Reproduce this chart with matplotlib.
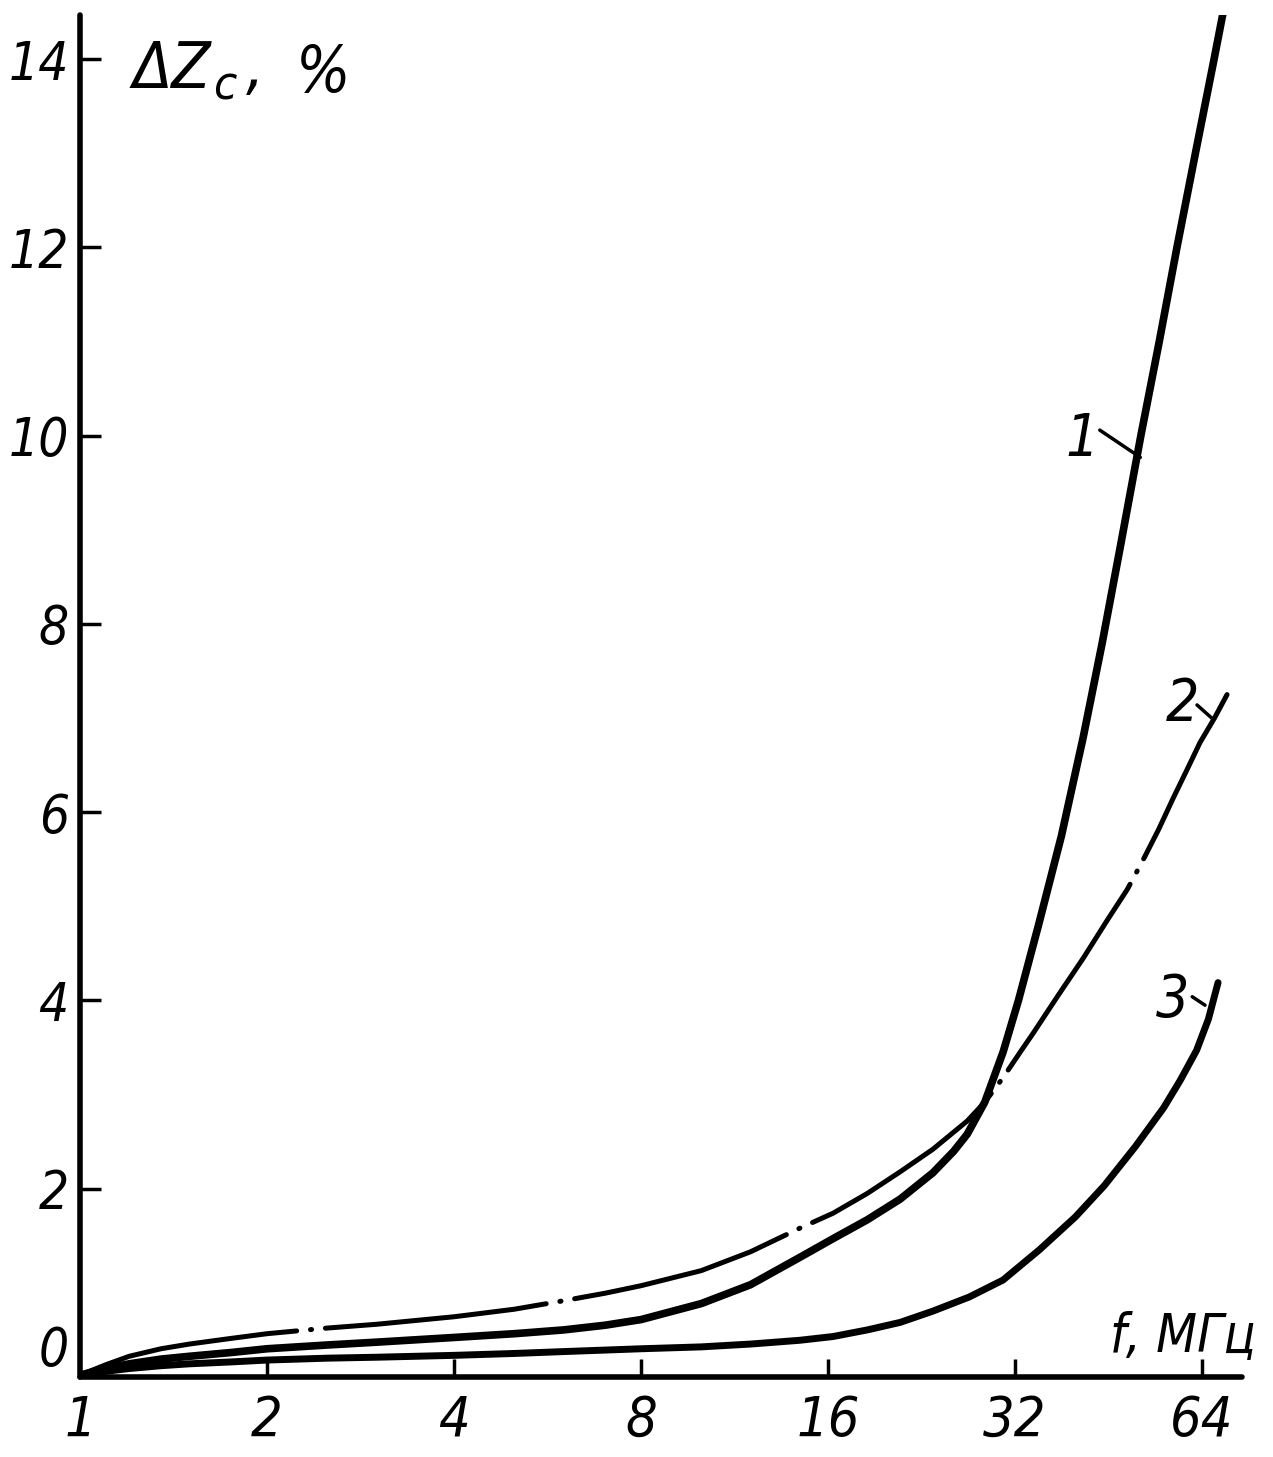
import matplotlib
matplotlib.use('Agg')
import matplotlib.pyplot as plt
from matplotlib import font_manager

# values (f in MHz, dZc in %)
f_1 = [1.0, 1.1, 1.2, 1.35, 1.5, 1.75, 2.0, 2.5, 3.0, 4.0, 5.0, 6.0, 7.0, 8.0,
       10.0, 12.0, 14.4, 16.3, 18.5, 20.9, 23.6, 25.5, 26.8, 28.6, 30.6, 32.4,
       34.9, 38.0, 41.2, 44.2, 47.2, 51.0, 54.6, 58.3, 62.6, 66.9, 69.2]
dz_1 = [0.02, 0.09, 0.14, 0.19, 0.22, 0.26, 0.30, 0.34, 0.37, 0.42, 0.46, 0.50, 0.55, 0.61,
        0.78, 0.98, 1.27, 1.47, 1.67, 1.89, 2.17, 2.40, 2.58, 2.92, 3.45, 4.0,
        4.8, 5.75, 6.8, 7.8, 8.8, 10.0, 11.0, 12.0, 13.04, 14.0, 14.5]

f_2 = [1.0, 1.1, 1.2, 1.35, 1.5, 1.75, 2.0, 2.5, 3.0, 4.0, 5.0, 6.0, 7.0, 8.0,
       10.0, 12.0, 14.4, 16.3, 18.5, 20.9, 23.6, 26.8, 28.6, 30.6, 32.6, 34.2,
       37.5, 41.2, 45.0, 48.5, 51.4, 54.5, 57.5, 60.5, 63.5, 67.0, 70.2]
dz_2 = [0.02, 0.13, 0.22, 0.30, 0.35, 0.41, 0.46, 0.52, 0.56, 0.64, 0.72, 0.81, 0.89, 0.97,
        1.13, 1.33, 1.58, 1.74, 1.95, 2.18, 2.42, 2.72, 2.92, 3.18, 3.45, 3.65,
        4.05, 4.45, 4.85, 5.18, 5.49, 5.82, 6.15, 6.45, 6.74, 7.0, 7.25]

f_3 = [1.0, 1.1, 1.2, 1.35, 1.5, 1.75, 2.0, 2.5, 3.0, 4.0, 5.0, 6.0, 8.0,
       10.0, 12.0, 14.4, 16.3, 18.5, 20.9, 23.6, 27.0, 30.6, 35.0, 40.0, 44.5,
       50.0, 55.5, 59.0, 62.7, 65.5, 67.9]
dz_3 = [0.02, 0.06, 0.09, 0.12, 0.14, 0.16, 0.18, 0.20, 0.21, 0.23, 0.25, 0.27, 0.30,
        0.32, 0.35, 0.39, 0.43, 0.50, 0.58, 0.70, 0.85, 1.03, 1.35, 1.70, 2.03,
        2.45, 2.86, 3.15, 3.47, 3.8, 4.19]

x_ticks = [1, 2, 4, 8, 16, 32, 64]
x_labels = ['1', '2', '4', '8', '16', '32', '64']
y_ticks = [0, 2, 4, 6, 8, 10, 12, 14]
y_labels = ['0', '2', '4', '6', '8', '10', '12', '14']

# curve number labels: (text, label pos, leader start, leader end)
curve_tags = [
    ('1', (41.0, 9.96), (43.8, 10.06), (50.9, 9.77)),
    ('2', (59.6, 7.14), (62.8, 7.14), (66.6, 6.99)),
    ('3', (57.3, 4.0), (61.7, 4.04), (64.7, 3.95)),
]

# the scan uses narrow hand lettering, so pick a narrow face if there is one
names = set(f.name for f in font_manager.fontManager.ttflist)
condensed = [f for f in font_manager.fontManager.ttflist
             if f.name == 'DejaVu Sans' and 'condensed' in str(f.stretch).lower()]
if 'Liberation Sans Narrow' in names:
    fam, stretch, fs = 'Liberation Sans Narrow', 'normal', 44
elif condensed:
    fam, stretch, fs = 'DejaVu Sans', 'condensed', 40
else:
    fam, stretch, fs = 'Liberation Sans', 'normal', 36

plt.rcParams['font.family'] = [fam, 'DejaVu Sans']
plt.rcParams['font.stretch'] = stretch
plt.rcParams['font.style'] = 'italic'
plt.rcParams['lines.scale_dashes'] = False

W, H = 1273, 1457
fig = plt.figure(figsize=(W / 100, H / 100), dpi=100)


def px(x, y):
    return x / W, 1 - y / H


ax = fig.add_axes([80 / W, 80 / H, 1162 / W, 1362 / H])
ax.set_xscale('log', base=2)
ax.set_xlim(1, 74.2)
ax.set_ylim(0, 14.47)

ink = 'black'
ax.plot(f_1, dz_1, color=ink, lw=5.5, solid_capstyle='round', solid_joinstyle='round')
ax.plot(f_3, dz_3, color=ink, lw=5.0, solid_capstyle='round', solid_joinstyle='round')
ax.plot(f_2, dz_2, color=ink, lw=3.6, dashes=(160, 10, 0.8, 10),
        dash_capstyle='round', dash_joinstyle='round')

for txt, pos, a, b in curve_tags:
    ax.text(pos[0], pos[1], txt, fontsize=fs + 2, ha='center', va='center')
    ax.plot([a[0], b[0]], [a[1], b[1]], color=ink, lw=2.5, solid_capstyle='round')

for side in ['top', 'right']:
    ax.spines[side].set_visible(False)
for side in ['left', 'bottom']:
    ax.spines[side].set_linewidth(4)
    ax.spines[side].set_capstyle('round')

ax.set_xticks(x_ticks)
ax.set_xticklabels(x_labels)
ax.xaxis.set_minor_locator(matplotlib.ticker.NullLocator())
ax.set_yticks(y_ticks)
ax.set_yticklabels(y_labels)

ax.tick_params(axis='both', direction='in', width=2.5, color=ink)
ax.tick_params(axis='x', length=13, pad=12, labelsize=fs)
ax.tick_params(axis='y', length=15, pad=8, labelsize=fs - 2)
ax.xaxis.get_major_ticks()[0].tick1line.set_visible(False)
ax.yaxis.get_major_ticks()[0].tick1line.set_visible(False)
ax.yaxis.get_major_ticks()[0].label1.set_va('bottom')

# axis titles
fig.text(*px(133, 88), 'ΔZ', fontsize=fs + 6, ha='left', va='baseline')
fig.text(*px(213, 100), 'c', fontsize=fs - 6, ha='left', va='baseline')
fig.text(*px(246, 88), ',', fontsize=fs + 6, ha='left', va='baseline')
fig.text(*px(296, 92), '%', fontsize=fs + 6, ha='left', va='baseline')
fig.text(*px(1110, 1352), 'f, МГц', fontsize=fs - 2, ha='left', va='baseline')

fig.savefig('out.png', dpi=100, facecolor='white')
